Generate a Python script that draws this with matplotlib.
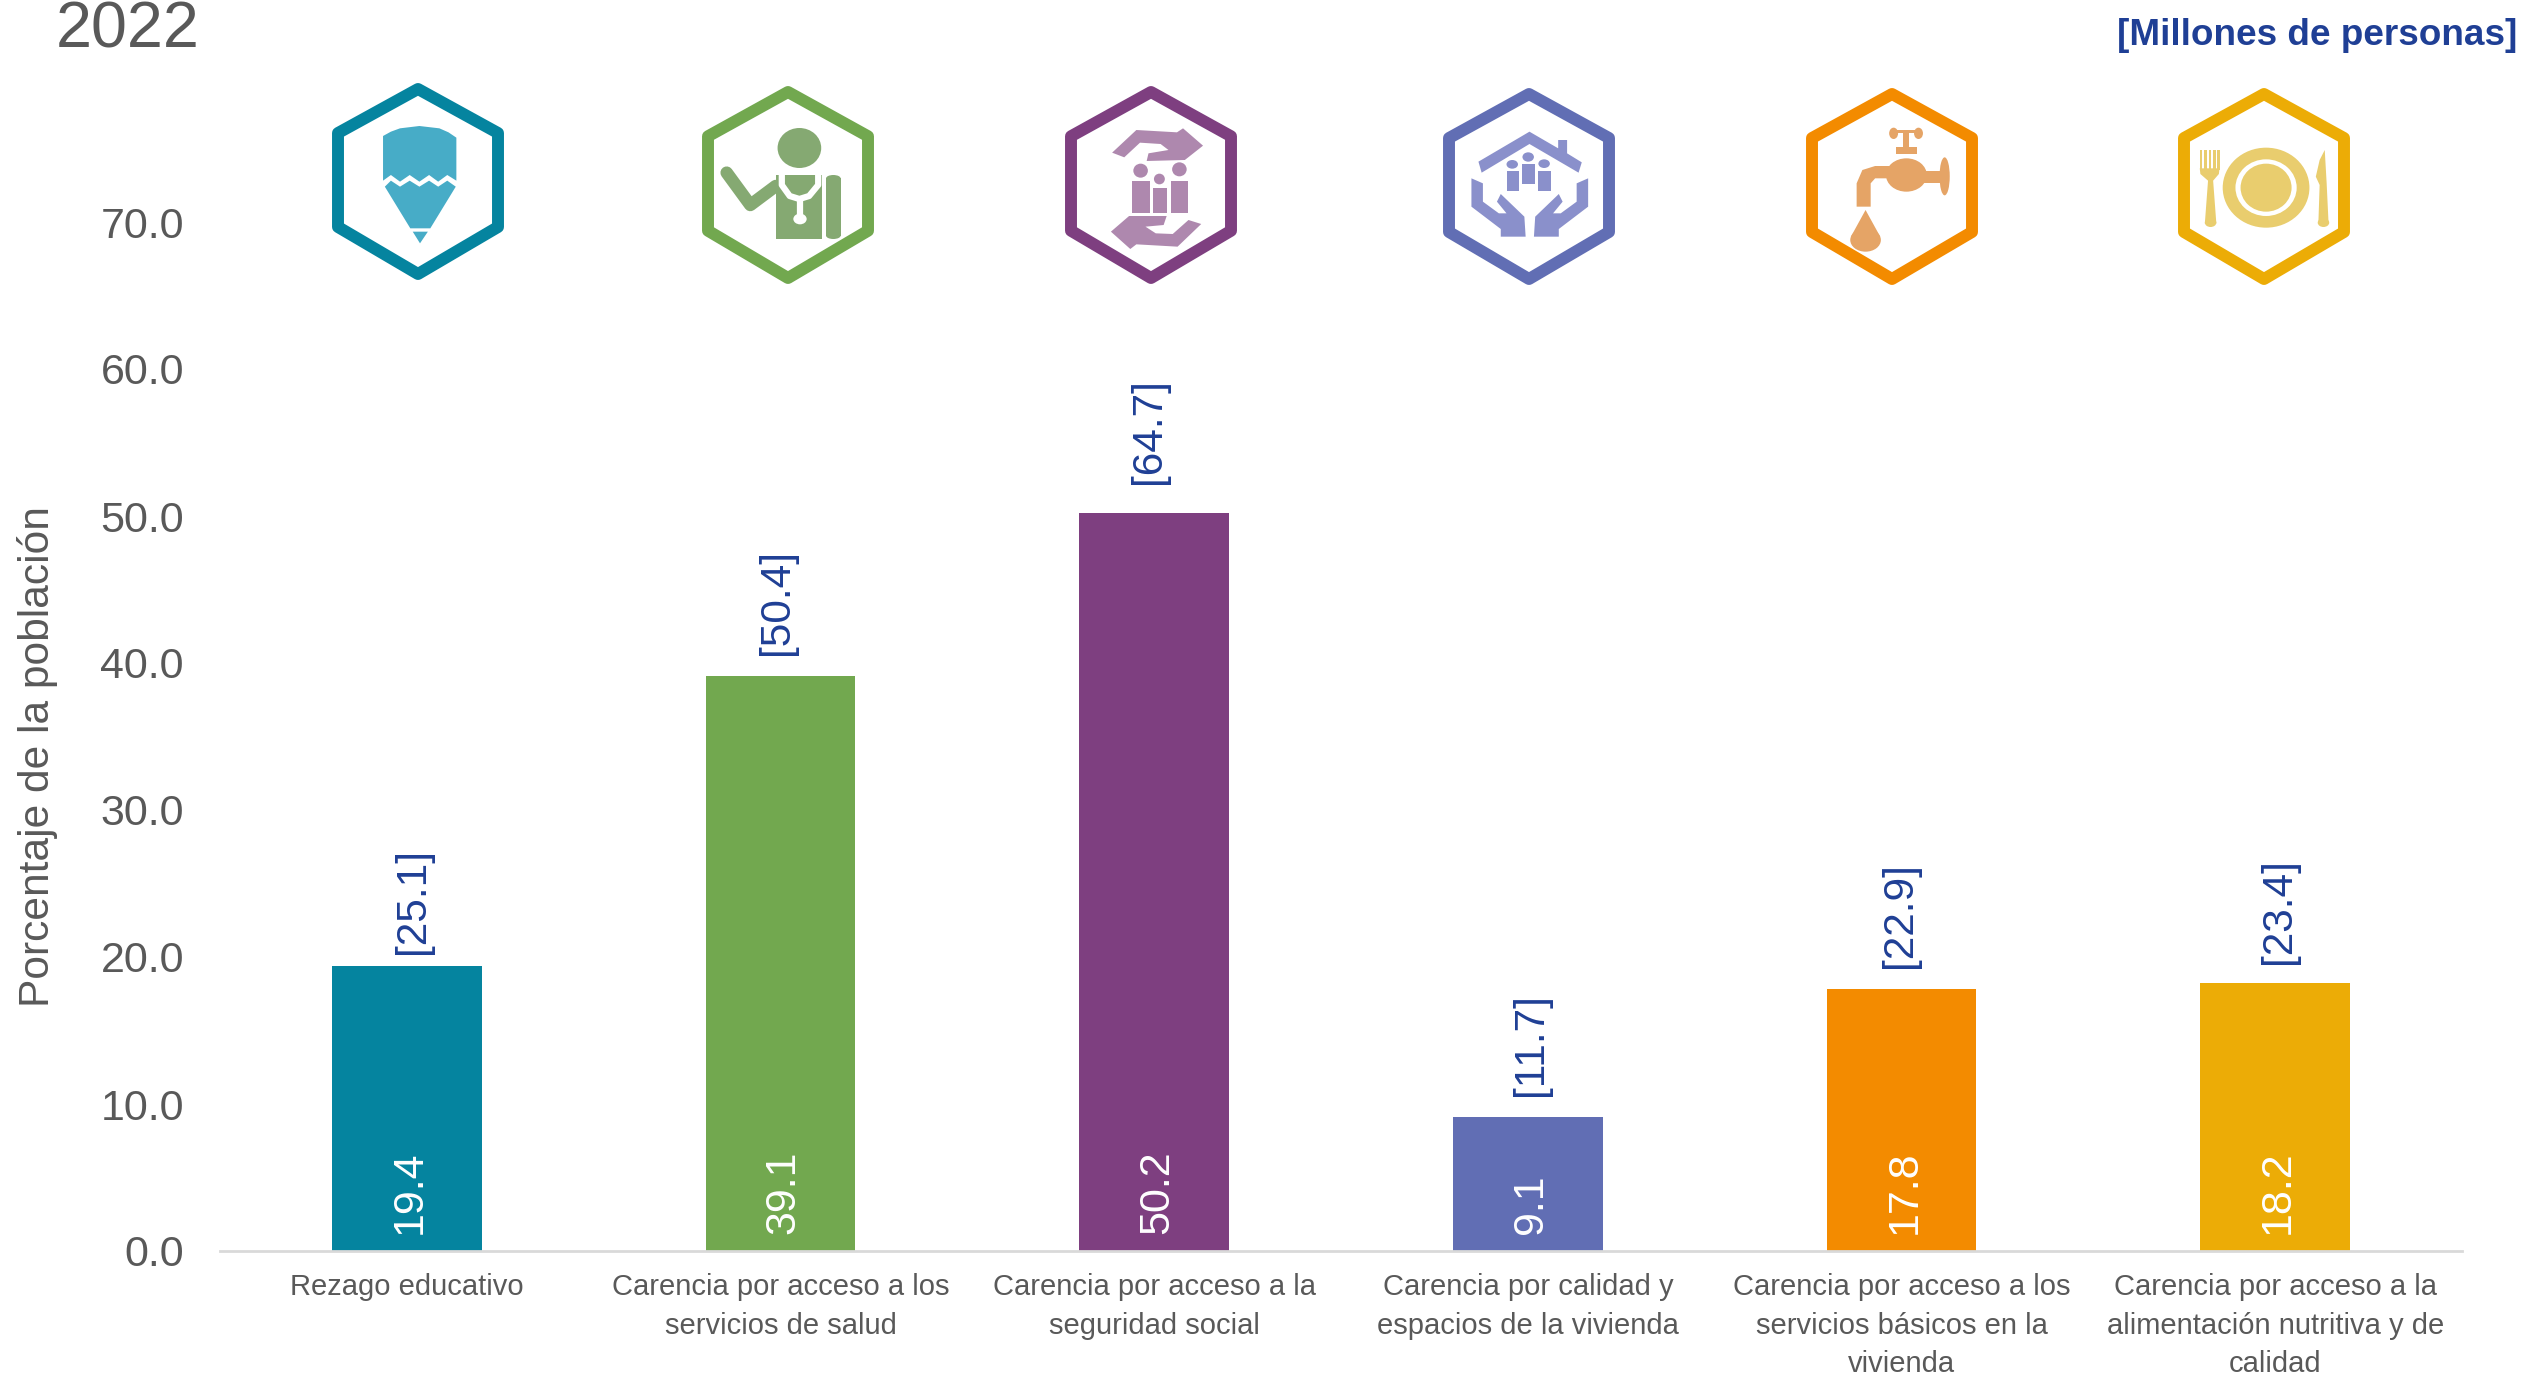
import matplotlib
matplotlib.use("Agg")
import matplotlib.pyplot as plt
from matplotlib.patches import Ellipse, Polygon, Rectangle

plt.rcParams['font.family'] = ['Liberation Sans', 'DejaVu Sans']

# Data
categories = [
    "Rezago educativo",
    "Carencia por acceso a los\nservicios de salud",
    "Carencia por acceso a la\nseguridad social",
    "Carencia por calidad y\nespacios de la vivienda",
    "Carencia por acceso a los\nservicios básicos en la\nvivienda",
    "Carencia por acceso a la\nalimentación nutritiva y de\ncalidad",
]
porcentaje = [19.4, 39.1, 50.2, 9.1, 17.8, 18.2]
millones = [25.1, 50.4, 64.7, 11.7, 22.9, 23.4]
yticks = [0, 10, 20, 30, 40, 50, 60, 70]

# Styles
colores = ['#05849F', '#72A84F', '#7E3F80', '#616EB4', '#F38B00', '#ECAC06']
gris = '#595959'
azul = '#1F3F95'
# hand placed brackets in the original: pixels above the bar and to the right of centre
gap_px = [12, 21, 29, 21, 21, 19]
dx_px = [6, -3, -5, 3, -1, 4]

W, H = 2522, 1378
fig = plt.figure(figsize=(W / 100, H / 100), dpi=100)
ax = fig.add_axes([220 / W, 1 - 1251 / H, (2462 - 220) / W, (1251 - 75) / H])

x = range(len(categories))
ax.bar(x, porcentaje, width=0.40, color=colores)
ax.set_xlim(-0.5, 5.5)
ax.set_ylim(0, 80)
ax.set_yticks(yticks)
ax.set_yticklabels([f"{v:.1f}" for v in yticks], fontsize=31, color=gris)
ax.set_xticks(list(x))
ax.set_xticklabels(categories, fontsize=21, color=gris, linespacing=1.47)
ax.tick_params(axis='y', length=0, pad=26)
ax.tick_params(axis='x', length=0, pad=16)
for s in ['top', 'right', 'left']:
    ax.spines[s].set_visible(False)
ax.spines['bottom'].set_color('#D9D9D9')
ax.spines['bottom'].set_linewidth(2)

fig.text(38 / W, 1 - 757 / H, "Porcentaje de la población", rotation=90,
         fontsize=30.6, color=gris, ha='center', va='center')
fig.text(56 / W, 1 - 47 / H, "2022", fontsize=46.5, color=gris, ha='left', va='baseline')
fig.text(2517 / W, 1 - 45 / H, "[Millones de personas]", fontsize=26.6, color=azul,
         fontweight='bold', ha='right', va='baseline')

for i in x:
    ax.annotate(f"{porcentaje[i]:.1f}", (i, 0), xytext=(2, 12), textcoords='offset points',
                rotation=90, ha='center', va='bottom', fontsize=31, color='white')
    ax.annotate(f"[{millones[i]:.1f}]", (i, porcentaje[i]),
                xytext=(dx_px[i] * 0.72, gap_px[i] * 0.72), textcoords='offset points',
                rotation=90, ha='center', va='bottom', fontsize=30.5, color=azul)

# Overlay in image pixels for the decorative icons
ov = fig.add_axes([0, 0, 1, 1], facecolor='none')
ov.set_xlim(0, W)
ov.set_ylim(H, 0)
ov.axis('off')


def hexagono(cx, top, bottom, half, color):
    shoulder = (bottom - top) * 0.245
    pts = [(cx, top + 7), (cx + half - 6, top + shoulder + 3), (cx + half - 6, bottom - shoulder - 3),
           (cx, bottom - 4), (cx - half + 6, bottom - shoulder - 3), (cx - half + 6, top + shoulder + 3)]
    ov.add_patch(Polygon(pts, closed=True, fill=False, edgecolor=color, linewidth=8.6, joinstyle='round'))


def icono(x0, sx, color):
    # shapes were traced on a crop, so coordinates come in crop units
    def p(a):
        return (x0 + a[0] / sx, 50 + a[1] / 3)

    def poly(pts, c=color):
        ov.add_patch(Polygon([p(a) for a in pts], closed=True, facecolor=c, edgecolor='none'))

    def rect(a, b, c_=None, d=None, c=color):
        ov.add_patch(Rectangle(p((a, c_)), (b - a) / sx, (d - c_) / 3, facecolor=c, edgecolor='none'))

    def ell(a, b, rx, ry, c=color):
        ov.add_patch(Ellipse(p((a, b)), 2 * rx / sx, 2 * ry / 3, facecolor=c, edgecolor='none'))

    def linea(pts, ancho, c=color):
        xs, ys = zip(*[p(a) for a in pts])
        ov.plot(xs, ys, color=c, linewidth=ancho, solid_capstyle='round', solid_joinstyle='round')

    return poly, rect, ell, linea


hexagono(418, 82, 278, 86, colores[0])
hexagono(788, 85, 282, 86, colores[1])
hexagono(1151, 85, 282, 86, colores[2])
hexagono(1529, 87, 283, 86, colores[3])
hexagono(1892, 87, 283, 86, colores[4])
hexagono(2264, 87, 283, 86, colores[5])

# pencil
poly, rect, ell, linea = icono(300, 1.65, '#47ACC7')
poly([(137, 258), (150, 245), (165, 235), (197, 228), (230, 235), (245, 247), (258, 263), (258, 392),
      (243, 375), (228, 395), (213, 375), (197, 395), (181, 375), (165, 395), (150, 375), (137, 392)])
poly([(140, 410), (150, 392), (165, 410), (181, 392), (197, 410), (213, 392), (228, 410), (243, 392),
      (257, 410), (215, 535), (182, 535)])
poly([(186, 545), (211, 545), (198, 580)])

# doctor
poly, rect, ell, linea = icono(300, 1.65, '#85A972')
ell(824, 294, 36, 60)
rect(785, 862, 375, 567)
rect(868, 892, 385, 557)
ell(880, 385, 12, 10)
ell(880, 557, 12, 10)
linea([(704, 368), (743, 465), (785, 408)], 9)
linea([(795, 372), (795, 405), (808, 438), (824, 447), (840, 438), (855, 405), (855, 372)], 4.5, 'white')
linea([(825, 447), (825, 505)], 4.5, 'white')
ell(825, 507, 11, 16, 'white')

# social security
poly, rect, ell, linea = icono(300, 1.65, '#AE88AE')
poly([(1340, 308), (1380, 240), (1447, 247), (1457, 235), (1490, 287), (1460, 330), (1397, 333),
      (1400, 310), (1433, 300), (1420, 282), (1386, 278), (1360, 322)])
poly([(1338, 545), (1368, 498), (1430, 498), (1425, 525), (1395, 530), (1412, 550), (1440, 552),
      (1466, 510), (1487, 522), (1448, 590), (1380, 583), (1370, 597)])
rect(1372, 1402, 392, 488)
rect(1407, 1430, 413, 488)
rect(1437, 1466, 392, 488)
ell(1387, 362, 12, 21)
ell(1418, 387, 9, 16)
ell(1451, 358, 12, 21)

# housing
poly, rect, ell, linea = icono(1400, 1.568, '#8A90CB')
poly([(123, 335), (203, 245), (248, 295), (248, 270), (262, 270), (262, 310), (285, 337), (280, 368),
      (203, 282), (128, 368)])
rect(167, 187, 362, 422)
rect(192, 212, 342, 402)
rect(216, 236, 362, 422)
ell(176, 343, 9, 13)
ell(201, 321, 9, 14)
ell(226, 341, 9, 13)
mano = [(112, 385), (130, 400), (130, 455), (155, 490), (167, 490), (152, 455), (158, 432), (195, 500),
        (197, 560), (158, 560), (158, 537), (112, 470)]
poly(mano)
poly([(407 - a, b) for a, b in mano])

# tap
poly, rect, ell, linea = icono(1400, 1.568, '#E5A466')
ell(774, 250, 7, 17)
ell(813, 250, 7, 17)
rect(774, 813, 240, 250)
rect(788, 798, 250, 300)
rect(778, 810, 292, 313)
ell(794, 375, 32, 50)
poly([(716, 470), (716, 400), (725, 360), (745, 348), (770, 348), (790, 385), (745, 385), (738, 400),
      (738, 470)])
rect(820, 850, 362, 400)
ell(854, 379, 8, 57)
poly([(730, 480), (753, 560), (707, 560)])
ell(730, 570, 24, 35)

# plate
poly, rect, ell, linea = icono(1400, 1.568, '#E9CD6E')
ell(1358, 413, 68, 120)
ell(1358, 413, 48, 85, 'white')
ell(1358, 413, 40, 72)
for t in [1254, 1261, 1268, 1275, 1281]:
    rect(t, t + 4, 300, 360)
poly([(1254, 355), (1285, 355), (1284, 372), (1275, 392), (1280, 520), (1262, 520), (1267, 392), (1255, 372)])
ell(1271, 518, 9, 13)
poly([(1450, 300), (1453, 400), (1456, 520), (1440, 520), (1442, 405), (1436, 380), (1442, 330)])
ell(1448, 518, 9, 13)

plt.savefig("out.png", dpi=100)
